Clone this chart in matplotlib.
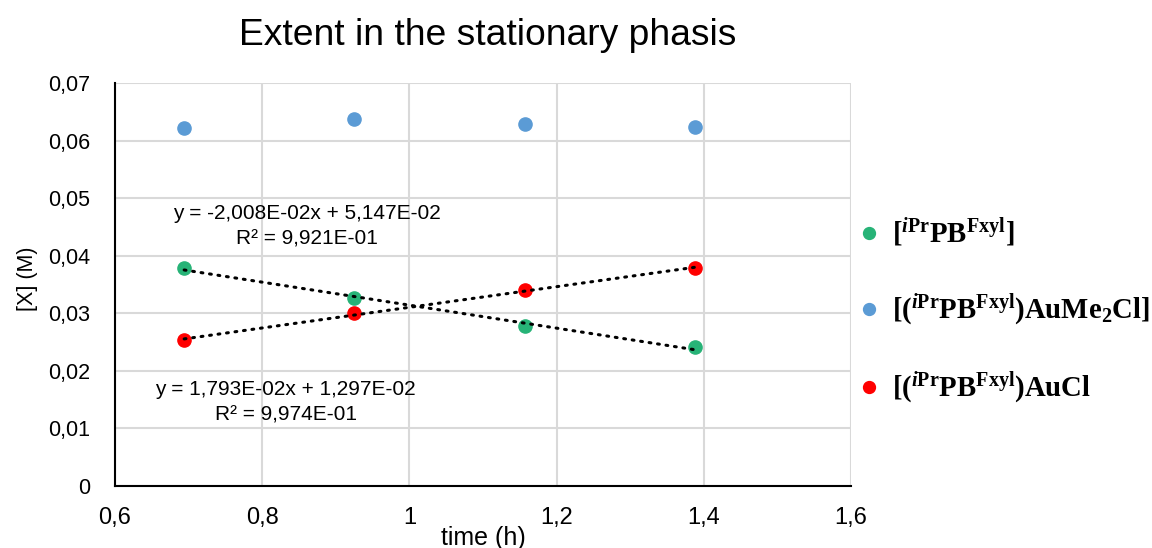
import numpy as np
import matplotlib
matplotlib.use('Agg')
from matplotlib import pyplot as plt
from matplotlib.ticker import FuncFormatter, MultipleLocator

plt.rcParams['font.family'] = 'Liberation Sans'
plt.rcParams['mathtext.fontset'] = 'custom'
plt.rcParams['mathtext.rm'] = 'Liberation Serif:bold'
plt.rcParams['mathtext.it'] = 'Liberation Serif:bold:italic'
plt.rcParams['mathtext.bf'] = 'Liberation Serif:bold'

# Data
time_h = [0.694, 0.925, 1.157, 1.388]
ligand = [0.0379, 0.0326, 0.0278, 0.0241]
au_me2cl = [0.0622, 0.0637, 0.0629, 0.0624]
au_cl = [0.0253, 0.0300, 0.0340, 0.0378]

labels = [r'$\mathrm{[^{\mathit{i}Pr}PB^{Fxyl}]}$',
          r'$\mathrm{[(^{\mathit{i}Pr}PB^{Fxyl})AuMe_{2}Cl]}$',
          r'$\mathrm{[(^{\mathit{i}Pr}PB^{Fxyl})AuCl}$']
colors = ['#27b377', '#5b9bd5', '#ff0000']

eq_ligand = 'y = -2,008E-02x + 5,147E-02\nR² = 9,921E-01'
eq_aucl = 'y = 1,793E-02x + 1,297E-02\nR² = 9,974E-01'

fig = plt.figure(figsize=(11.52, 5.48), dpi=100)
ax = fig.add_axes([0.0998, 0.1131, 0.6389, 0.7354])

for ys, c, lab in zip([ligand, au_me2cl, au_cl], colors, labels):
    ax.plot(time_h, ys, 'o', color=c, markersize=9.5, label=lab, zorder=3)

# linear trendlines
for ys in [ligand, au_cl]:
    k, b = np.polyfit(time_h, ys, 1)
    xs = np.array([time_h[0], time_h[-1]])
    ax.plot(xs, k * xs + b, color='black', linewidth=2.2,
            linestyle=(0, (0.6, 2.2)), dash_capstyle='round', zorder=4)

ax.text(0.861, 0.0451, eq_ligand, ha='center', va='center', fontsize=15,
        linespacing=1.45)
ax.text(0.832, 0.0145, eq_aucl, ha='center', va='center', fontsize=15,
        linespacing=1.45)

ax.set_xlim(0.6, 1.6)
ax.set_ylim(0, 0.07)
ax.xaxis.set_major_locator(MultipleLocator(0.2))
ax.yaxis.set_major_locator(MultipleLocator(0.01))
comma = FuncFormatter(lambda v, p: ('%g' % round(v, 3)).replace('.', ','))
ax.xaxis.set_major_formatter(comma)
ax.yaxis.set_major_formatter(comma)
ax.tick_params(axis='x', length=0, labelsize=17, pad=15)
ax.tick_params(axis='y', length=0, labelsize=15.5, pad=18)
ax.grid(True, color='#d9d9d9', linewidth=1.5)
ax.set_axisbelow(True)
for s in ['top', 'right']:
    ax.spines[s].set_visible(False)
for s in ['left', 'bottom']:
    ax.spines[s].set_linewidth(1.5)

ax.set_xlabel('time (h)', fontsize=18)
ax.xaxis.set_label_coords(0.5, -0.1)
ax.set_ylabel('[X] (M)', fontsize=15.5)
ax.yaxis.set_label_coords(-0.105, 0.514)
fig.text(0.423, 0.936, 'Extent in the stationary phasis', fontsize=26.8,
         ha='center', va='center')

fig.legend(loc='center left', bbox_to_anchor=(0.742, 0.432), frameon=False,
           fontsize=20.7, labelspacing=1.5, handletextpad=0.3, handlelength=1.0,
           borderpad=0, borderaxespad=0, markerscale=0.9)

plt.savefig('out.png', dpi=100)
